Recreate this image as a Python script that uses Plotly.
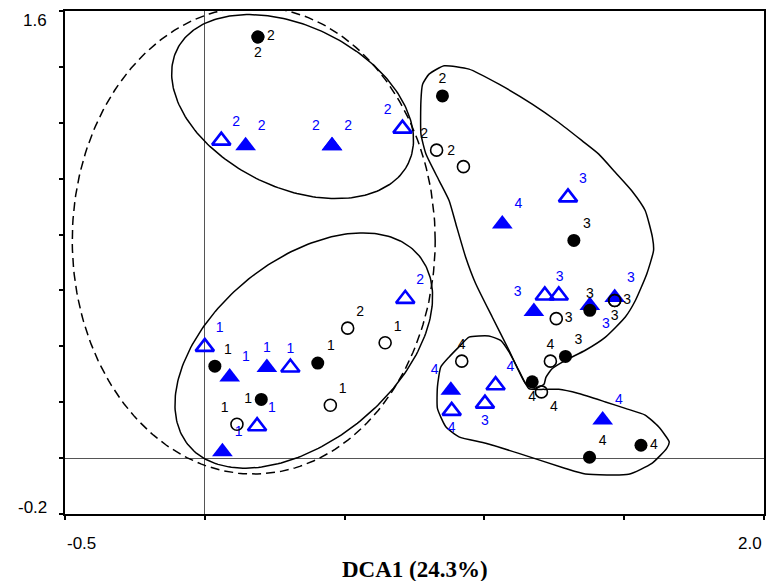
import numpy as np
import plotly.graph_objects as go

# ---------------- data (DCA scores) ----------------
# black filled circles
fc_x = [0.190, 0.190, 0.850, 1.320, 1.377, 0.036, 0.404, 0.202, 1.290, 1.171, 1.376, 1.560]
fc_y = [1.507, 1.507, 1.296, 0.779, 0.529, 0.329, 0.340, 0.210, 0.364, 0.273, 0.003, 0.046]
fc_lbl = ["2", "2", "2", "3", "3", "1", "1", "1", "3", "4", "4", "4"]

# open circles
oc_x = [0.829, 0.925, 0.511, 0.645, 0.449, 0.115, 1.257, 1.466, 1.466, 0.919, 1.236, 1.204]
oc_y = [1.102, 1.043, 0.465, 0.413, 0.189, 0.121, 0.499, 0.564, 0.564, 0.347, 0.347, 0.237]
oc_lbl = ["2", "2", "2", "1", "1", "1", "3", "3", "3", "4", "4", "4"]

# blue filled triangles
ft_x = [0.146, 0.455, 0.455, 1.064, 1.177, 1.377, 1.466, 0.089, 0.222, 0.063, 0.880, 1.423]
ft_y = [1.118, 1.118, 1.118, 0.838, 0.525, 0.546, 0.575, 0.290, 0.324, 0.023, 0.243, 0.136]
ft_lbl = ["2", "2", "2", "4", "3", "3", "3", "1", "1", "1", "4", "4"]

# blue open triangles
ot_x = [0.059, 0.707, 1.299, 1.216, 1.266, 0.717, 0.000, 0.306, 0.187, 0.883, 1.040, 1.002]
ot_y = [1.136, 1.179, 0.933, 0.582, 0.582, 0.570, 0.398, 0.324, 0.114, 0.169, 0.261, 0.195]
ot_lbl = ["2", "2", "3", "3", "", "2", "1", "1", "1", "4", "4", "3"]

# envelope outlines (data units)
hull_a_x = [0.856, 0.945, 1.052, 1.171, 1.266, 1.349, 1.409, 1.468, 1.527, 1.575, 1.601, 1.605,
            1.581, 1.540, 1.504, 1.433, 1.361, 1.290, 1.242, 1.220, 1.213, 1.180, 1.147, 1.088,
            1.028, 0.969, 0.933, 0.898, 0.874, 0.838, 0.791, 0.773, 0.773, 0.779, 0.802, 0.856]
hull_a_y = [1.404, 1.392, 1.338, 1.267, 1.201, 1.136, 1.088, 1.023, 0.957, 0.886, 0.790, 0.743,
            0.660, 0.564, 0.505, 0.433, 0.386, 0.350, 0.320, 0.289, 0.264, 0.250, 0.267, 0.386,
            0.505, 0.624, 0.719, 0.838, 0.921, 0.993, 1.088, 1.160, 1.279, 1.338, 1.374, 1.404]
hull_b_x = [0.945, 1.016, 1.058, 1.088, 1.123, 1.159, 1.213, 1.266, 1.337, 1.433, 1.504, 1.575,
            1.623, 1.661, 1.652, 1.599, 1.516, 1.361, 1.290, 1.123, 1.005, 0.909, 0.862, 0.832,
            0.832, 0.844, 0.874, 0.909, 0.945]
hull_b_y = [0.433, 0.437, 0.421, 0.380, 0.314, 0.249, 0.246, 0.246, 0.231, 0.201, 0.178, 0.154,
            0.112, 0.058, 0.035, -0.019, -0.058, -0.057, -0.037, 0.017, 0.053, 0.076, 0.112, 0.178,
            0.255, 0.326, 0.362, 0.398, 0.433]

# ellipses: centre x, centre y, semi-axis a, semi-axis b, rotation (deg)
ell_top = (0.314, 1.258, 0.461, 0.288, -26.3)
ell_bottom = (0.354, 0.385, 0.534, 0.323, 39.4)
ell_dashed = (0.175, 0.779, 0.649, 0.836, 0.0)

# ---------------- styling (label positions) ----------------
fc_pos = ["middle right", "bottom center", "top center", "top right", "top center", "top right",
          "top right", "middle left", "top right", "bottom center", "top right", "middle right"]
oc_pos = ["top left", "top left", "top right", "top right", "top right", "top left",
          "middle right", "middle right", "bottom center", "top center", "top center", "bottom right"]
ft_pos = ["top right", "top left", "top right", "top right", "top left", "bottom right",
          "top right", "top right", "top center", "top right", "top left", "top right"]
ot_pos = ["top right", "top left", "top right", "top right", "top right", "top right",
          "top right", "top center", "top right", "bottom center", "top right", "bottom center"]

BLUE = "#0000FF"
LBL_FONT = "Liberation Sans, Arial, sans-serif"


def ellipse(params, n=240):
    cx, cy, a, b, ang = params
    t = np.linspace(0, 2 * np.pi, n)
    th = np.deg2rad(ang)
    x = cx + a * np.cos(t) * np.cos(th) - b * np.sin(t) * np.sin(th)
    y = cy + a * np.cos(t) * np.sin(th) + b * np.sin(t) * np.cos(th)
    return x, y


fig = go.Figure()

line_style = dict(color="black", width=1.5)
for hx, hy in [(hull_a_x, hull_a_y), (hull_b_x, hull_b_y)]:
    fig.add_trace(go.Scatter(x=hx, y=hy, mode="lines", line=dict(line_style, shape="spline", smoothing=0.5),
                             hoverinfo="skip"))
for p, dash in [(ell_top, "solid"), (ell_bottom, "solid"), (ell_dashed, "9px,5px")]:
    ex, ey = ellipse(p)
    fig.add_trace(go.Scatter(x=ex, y=ey, mode="lines", line=dict(line_style, dash=dash), hoverinfo="skip"))

fig.add_trace(go.Scatter(
    x=ft_x, y=ft_y, text=ft_lbl, textposition=ft_pos, mode="markers+text",
    marker=dict(symbol="triangle-up", size=18, color=BLUE, line=dict(width=0)),
    textfont=dict(family=LBL_FONT, size=14, color=BLUE)))
fig.add_trace(go.Scatter(
    x=ot_x, y=ot_y, text=ot_lbl, textposition=ot_pos, mode="markers+text",
    marker=dict(symbol="triangle-up-open", size=16, color=BLUE, line=dict(width=2.6, color=BLUE)),
    textfont=dict(family=LBL_FONT, size=14, color=BLUE)))
fig.add_trace(go.Scatter(
    x=oc_x, y=oc_y, text=oc_lbl, textposition=oc_pos, mode="markers+text",
    marker=dict(symbol="circle-open", size=12, color="black", line=dict(width=1.6, color="black")),
    textfont=dict(family=LBL_FONT, size=14, color="black")))
fig.add_trace(go.Scatter(
    x=fc_x, y=fc_y, text=fc_lbl, textposition=fc_pos, mode="markers+text",
    marker=dict(symbol="circle", size=13, color="black"),
    textfont=dict(family=LBL_FONT, size=14, color="black")))

axis_common = dict(showgrid=False, showline=True, linecolor="black", linewidth=2, mirror=True,
                   zeroline=True, zerolinecolor="#555555", zerolinewidth=1,
                   ticks="outside", ticklen=4, tickwidth=1.5, tickcolor="black",
                   showticklabels=False)

fig.update_layout(
    width=775, height=581,
    margin=dict(l=65, r=9, t=10, b=67),
    plot_bgcolor="white", paper_bgcolor="white",
    showlegend=False,
    xaxis=dict(axis_common, range=[-0.5, 2.0], tickvals=[-0.5, 0, 0.5, 1.0, 1.5, 2.0]),
    yaxis=dict(axis_common, range=[-0.2, 1.6], tickvals=[-0.2, 0, 0.2, 0.4, 0.6, 0.8, 1.0, 1.2, 1.4, 1.6]),
)

tick_font = dict(family=LBL_FONT, size=17, color="black")
fig.add_annotation(x=-0.5, y=0, xref="x", yref="paper", text="-0.5", showarrow=False,
                   xanchor="left", yanchor="middle", yshift=-29, font=tick_font)
fig.add_annotation(x=2.0, y=0, xref="x", yref="paper", text="2.0", showarrow=False,
                   xanchor="right", yanchor="middle", yshift=-29, font=tick_font)
fig.add_annotation(x=0, y=1.6, xref="paper", yref="y", text="1.6", showarrow=False,
                   xanchor="right", yanchor="middle", xshift=-16, yshift=-9, font=tick_font)
fig.add_annotation(x=0, y=-0.2, xref="paper", yref="y", text="-0.2", showarrow=False,
                   xanchor="right", yanchor="middle", xshift=-16, yshift=7, font=tick_font)
fig.add_annotation(x=0.5, y=0, xref="paper", yref="paper", text="<b>DCA1 (24.3%)</b>", showarrow=False,
                   xanchor="center", yanchor="middle", yshift=-55,
                   font=dict(family="Liberation Serif, Times New Roman, serif", size=23, color="black"))

fig.write_html("out.html")
